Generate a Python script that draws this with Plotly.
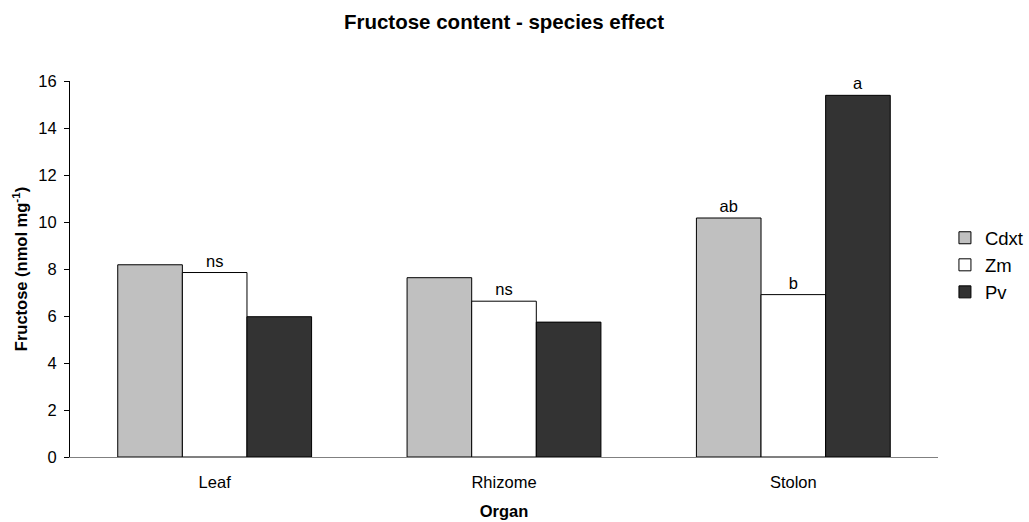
import plotly.graph_objects as go

# Organ categories and fructose content (nmol mg-1) per species
organs = ["Leaf", "Rhizome", "Stolon"]
cdxt = [8.18, 7.63, 10.17]
zm = [7.85, 6.63, 6.91]
pv = [5.97, 5.74, 15.39]

# Significance letters shown above the bars
cdxt_sig = [None, None, "ab"]
zm_sig = ["ns", "ns", "b"]
pv_sig = [None, None, "a"]

y_ticks = [0, 2, 4, 6, 8, 10, 12, 14, 16]

FONT = "Arial, Liberation Sans, sans-serif"

series = [
    ("Cdxt", cdxt, cdxt_sig, "#C0C0C0"),
    ("Zm", zm, zm_sig, "#FFFFFF"),
    ("Pv", pv, pv_sig, "#333333"),
]

fig = go.Figure()
for name, vals, sig, color in series:
    fig.add_trace(go.Bar(
        name=name,
        x=organs,
        y=vals,
        text=sig,
        textposition="outside",
        textfont=dict(family=FONT, size=16.5, color="#000000"),
        cliponaxis=False,
        marker=dict(color=color, line=dict(color="#000000", width=1)),
    ))

fig.update_layout(
    width=1029,
    height=522,
    barmode="group",
    bargap=0.33,
    bargroupgap=0,
    paper_bgcolor="#FFFFFF",
    plot_bgcolor="#FFFFFF",
    font=dict(family=FONT, size=16.5, color="#000000"),
    margin=dict(l=70, r=91, t=81, b=65, autoexpand=False),
    title=dict(
        text="<b>Fructose content - species effect</b>",
        font=dict(family=FONT, size=20.5, color="#000000"),
        x=0.5, xref="paper", xanchor="center",
        y=1 - 22 / 522, yanchor="middle",
    ),
    legend=dict(
        x=1.008, xanchor="left",
        y=0.51, yanchor="middle",
        font=dict(family=FONT, size=18.5, color="#000000"),
        itemwidth=30,
        bgcolor="rgba(0,0,0,0)",
    ),
    xaxis=dict(
        automargin=False,
        showline=True,
        linecolor="#808080",
        linewidth=1,
        ticks="",
        showgrid=False,
        zeroline=False,
        ticklabelstandoff=10,
        tickfont=dict(family=FONT, size=16.5, color="#000000"),
        title=dict(text="<b>Organ</b>", standoff=15,
                   font=dict(family=FONT, size=16.5, color="#000000")),
    ),
    yaxis=dict(
        automargin=False,
        range=[0, 16],
        tickvals=y_ticks,
        showline=True,
        linecolor="#000000",
        linewidth=1,
        ticks="outside",
        ticklen=5,
        tickcolor="#000000",
        showgrid=False,
        zeroline=False,
        ticklabelstandoff=4,
        tickfont=dict(family=FONT, size=16.5, color="#000000"),
        title=dict(text="<b>Fructose (nmol mg<sup>-1</sup>)</b>", standoff=6,
                   font=dict(family=FONT, size=16.5, color="#000000")),
    ),
)

fig.write_html("out.html")
